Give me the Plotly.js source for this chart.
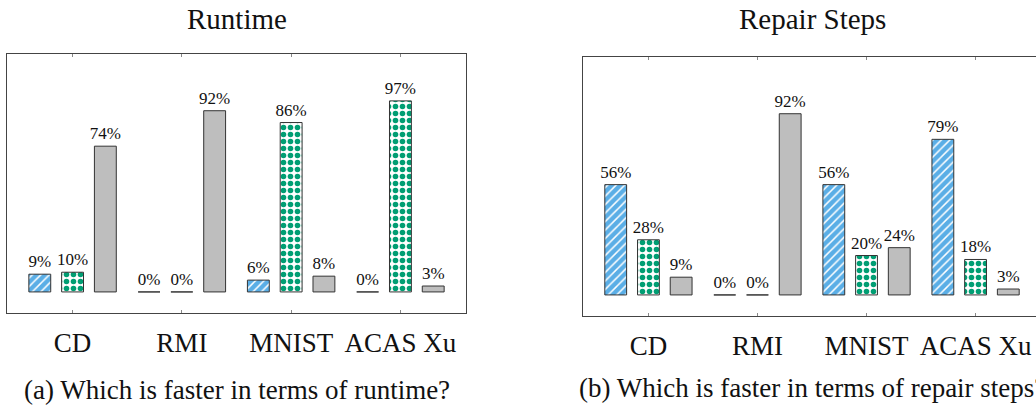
<!DOCTYPE html>
<html>
<head>
<meta charset="utf-8">
<script src="https://cdn.plot.ly/plotly-3.0.1.min.js"></script>
<style>
  html, body { margin: 0; padding: 0; overflow: hidden; background: #fff; }
  #wrap { width: 1036px; height: 414px; overflow: hidden; }
</style>
</head>
<body>
<div id="wrap"><div id="chart"></div></div>
<script>
// ---- data ----
const categories = ["CD", "RMI", "MNIST", "ACAS Xu"];
const runtimeBlue  = [9, 0, 6, 0];
const runtimeGreen = [10, 0, 86, 97];
const runtimeGray  = [74, 92, 8, 3];
const stepsBlue    = [56, 0, 56, 79];
const stepsGreen   = [28, 0, 20, 18];
const stepsGray    = [9, 92, 24, 3];
const panelTitles  = ["Runtime", "Repair Steps"];
const captions     = ["(a) Which is faster in terms of runtime?", "(b) Which is faster in terms of repair steps?"];

// ---- geometry ----
const W = 1045, H = 414;
const FONT = "'Liberation Serif', 'Times New Roman', serif";
const px = v => v / W;
const py = v => 1 - v / H;

const lineStyle = { color: "#333", width: 1 };
const blueMarker = {
  color: "#5AAEE6",
  line: lineStyle,
  pattern: { shape: "/", bgcolor: "#5AAEE6", fgcolor: "#ffffff", size: 6, solidity: 0.25, fillmode: "replace" }
};
const greenMarker = {
  color: "#009E73",
  line: lineStyle,
  pattern: { shape: ".", bgcolor: "#ffffff", fgcolor: "#009E73", size: 7, solidity: 0.5, fillmode: "replace" }
};
const grayMarker = { color: "#BEBEBE", line: lineStyle };

function barTrace(vals, marker, name, xa, ya) {
  return {
    type: "bar", x: categories, y: vals, name: name,
    xaxis: xa, yaxis: ya, marker: marker,
    texttemplate: "%{y}%", textposition: "outside", constraintext: "none",
    cliponaxis: false,
    textfont: { family: FONT, size: 17, color: "#111" },
    outsidetextfont: { family: FONT, size: 17, color: "#111" },
    hoverinfo: "skip", showlegend: false
  };
}

const data = [
  barTrace(runtimeBlue,  blueMarker,  "blue",  "x",  "y"),
  barTrace(runtimeGreen, greenMarker, "green", "x",  "y"),
  barTrace(runtimeGray,  grayMarker,  "gray",  "x",  "y"),
  barTrace(stepsBlue,    blueMarker,  "blue",  "x2", "y2"),
  barTrace(stepsGreen,   greenMarker, "green", "x2", "y2"),
  barTrace(stepsGray,    grayMarker,  "gray",  "x2", "y2")
];

function xax(domain, anchor) {
  return {
    domain: domain, anchor: anchor, type: "category",
    range: [-0.6, 3.6], fixedrange: true,
    showline: true, linecolor: "#444", linewidth: 1.3, mirror: "ticks",
    ticks: "inside", ticklen: 3, tickcolor: "#888", tickwidth: 1,
    showgrid: false, zeroline: false,
    ticklabelstandoff: 5,
    tickfont: { family: FONT, size: 27, color: "#111" }
  };
}
function yax(domain, anchor) {
  return {
    domain: domain, anchor: anchor, range: [-10.7, 120.8], fixedrange: true,
    showline: true, linecolor: "#444", linewidth: 1.3, mirror: true,
    showticklabels: false, ticks: "", showgrid: false, zeroline: false
  };
}

const layout = {
  width: W, height: H,
  margin: { l: 0, r: 0, t: 0, b: 0 },
  paper_bgcolor: "#fff", plot_bgcolor: "#fff",
  barmode: "group", bargap: 0.1, bargroupgap: 0.333,
  xaxis:  xax([px(7), px(466)], "y"),
  yaxis:  yax([py(313), py(54)], "x"),
  xaxis2: xax([px(583), px(1041)], "y2"),
  yaxis2: yax([py(316), py(57)], "x2"),
  annotations: [
    { text: panelTitles[0], xref: "paper", yref: "paper", x: px(236.5), y: py(19), xanchor: "center", yanchor: "middle", showarrow: false, font: { family: FONT, size: 29, color: "#111" } },
    { text: panelTitles[1], xref: "paper", yref: "paper", x: px(812), y: py(19), xanchor: "center", yanchor: "middle", showarrow: false, font: { family: FONT, size: 29, color: "#111" } },
    { text: captions[0], xref: "paper", yref: "paper", x: px(236.5), y: py(390), xanchor: "center", yanchor: "middle", showarrow: false, font: { family: FONT, size: 27, color: "#111" } },
    { text: captions[1], xref: "paper", yref: "paper", x: px(812), y: py(388), xanchor: "center", yanchor: "middle", showarrow: false, font: { family: FONT, size: 27, color: "#111" } }
  ]
};

Plotly.newPlot("chart", data, layout, { displayModeBar: false, staticPlot: true });
</script>
</body>
</html>
